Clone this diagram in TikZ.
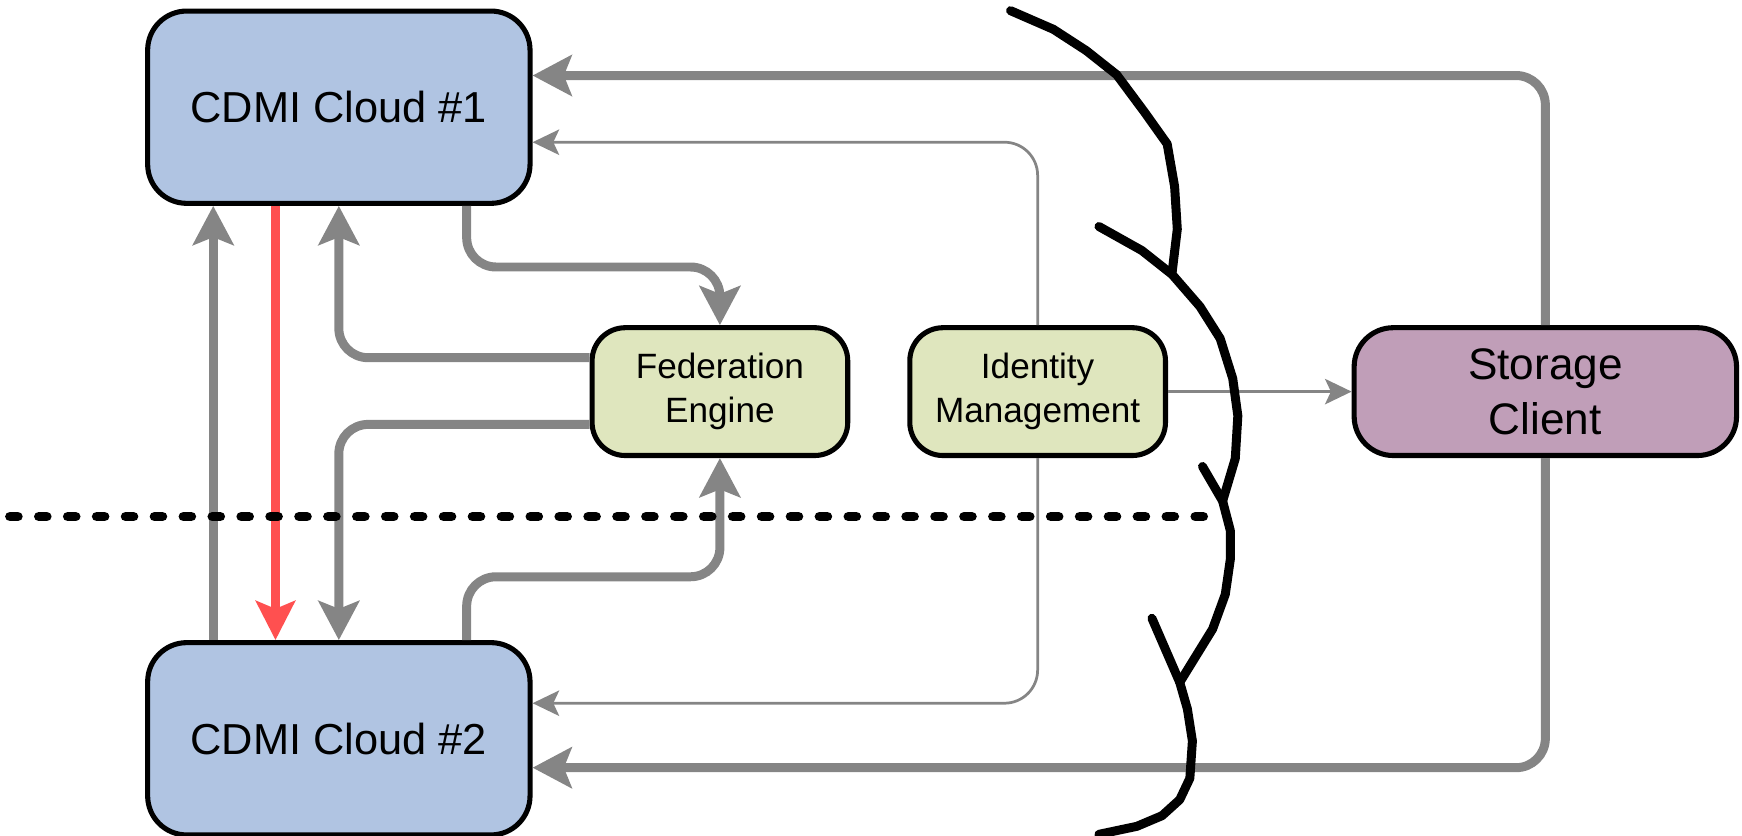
\documentclass[tikz,border=0pt]{standalone}
\usepackage{fontspec}
\setmainfont{Liberation Sans}
\usetikzlibrary{arrows.meta,calc}
\definecolor{cloudblue}{RGB}{176,196,226}
\definecolor{paleg}{RGB}{223,230,190}
\definecolor{mauve}{RGB}{192,158,184}
\definecolor{lgray}{RGB}{133,133,133}
\definecolor{redl}{RGB}{255,80,80}
\begin{document}
\begin{tikzpicture}[x=0.01cm,y=-0.01cm,
  box/.style={draw=black, line width=1.3pt, align=center, inner sep=0pt},
  cloudbox/.style={box, fill=cloudblue, rounded corners=10pt, minimum width=3.44cm, minimum height=1.73cm, font=\fontsize{11.1}{13}\selectfont},
  smallbox/.style={box, fill=paleg, rounded corners=8.5pt, minimum width=2.30cm, minimum height=1.15cm, font=\fontsize{9}{11.4}\selectfont},
  clientbox/.style={box, fill=mauve, rounded corners=10pt, minimum width=3.44cm, minimum height=1.15cm, font=\fontsize{11.3}{14}\selectfont},
  thickarrow/.style={draw=lgray, line width=2.3pt, rounded corners=7.5pt, -{Stealth[length=10pt,width=10.4pt,inset=2pt]}},
  thinarrow/.style={draw=lgray, line width=0.7pt, rounded corners=8.5pt, -{Stealth[length=6.8pt,width=6.5pt,inset=1.5pt]}},
  redarrow/.style={draw=redl, line width=2.2pt, -{Stealth[length=10pt,width=10pt,inset=2pt]}},
  boundary/.style={draw=black, line width=2.3pt, line cap=round, line join=round},
  dotline/.style={draw=black, line width=2.5pt, line cap=round, dash pattern=on 2pt off 5.4pt}
]
\useasboundingbox (0,0) rectangle (1568,752);

\node[cloudbox] (c1) at (305,96.5) {CDMI Cloud \#1};
\node[cloudbox] (c2) at (305,665) {CDMI Cloud \#2};
\node[smallbox] (fe) at (648,352.5) {Federation\\Engine};
\node[smallbox] (im) at (934,352.5) {Identity\\Management};
\node[clientbox] (sc) at (1391,352.5) {Storage\\Client};

% storage client to clouds
\draw[thickarrow] (sc.north) |- ([yshift=2.85mm]c1.east);
\draw[thickarrow] (sc.south) |- ([yshift=-2.6mm]c2.east);
% identity management
\draw[thinarrow] (im.north) |- ([yshift=-3.15mm]c1.east);
\draw[thinarrow] (im.south) |- ([yshift=3.2mm]c2.east);
\draw[thinarrow] (im.east) -- (sc.west);
% federation engine links
\draw[thickarrow] ([xshift=11.5mm]c1.south) -- ++(0,55) -| (fe.north);
\draw[thickarrow] ([yshift=3.05mm]fe.west) -| (c1.south);
\draw[thickarrow] ([yshift=-2.95mm]fe.west) -| (c2.north);
\draw[thickarrow] ([xshift=11.5mm]c2.north) -- ++(0,-57) -| (fe.south);
% direct cloud links
\draw[thickarrow] ([xshift=-11.3mm]c2.north) -- ([xshift=-11.3mm]c1.south);
\draw[redarrow] ([xshift=-5.7mm]c1.south) -- ([xshift=-5.7mm]c2.north);

% dotted boundary
\draw[dotline] (9,465) -- (1100,465);

% cloud boundary
\draw[boundary] (909.6,9.6) -- (948.2,26.4) -- (977.8,45.6) -- (1005.1,67.2) -- (1030.1,100.8) -- (1050.6,129.6) -- (1057.3,168) -- (1059.7,206.3) -- (1055.1,244.7);
\draw[boundary] (989.2,203.9) -- (1027.8,225.5) -- (1055.1,247.1) -- (1080.1,275.9) -- (1098.3,304.7) -- (1109.6,340.7) -- (1114.2,374.3) -- (1111.9,412.7) -- (1100.5,451);
\draw[boundary] (1082.4,419.9) -- (1100.5,451) -- (1107.4,477.4) -- (1107.4,503.8) -- (1102.9,535) -- (1091.5,566.2) -- (1061.9,614.2);
\draw[boundary] (1036.9,556.6) -- (1061.9,614.2) -- (1068.8,638.2) -- (1073.3,667) -- (1071,700.6) -- (1061.9,719.8) -- (1046,734.2) -- (1023.3,743.8) -- (989.2,751);
\end{tikzpicture}
\end{document}
